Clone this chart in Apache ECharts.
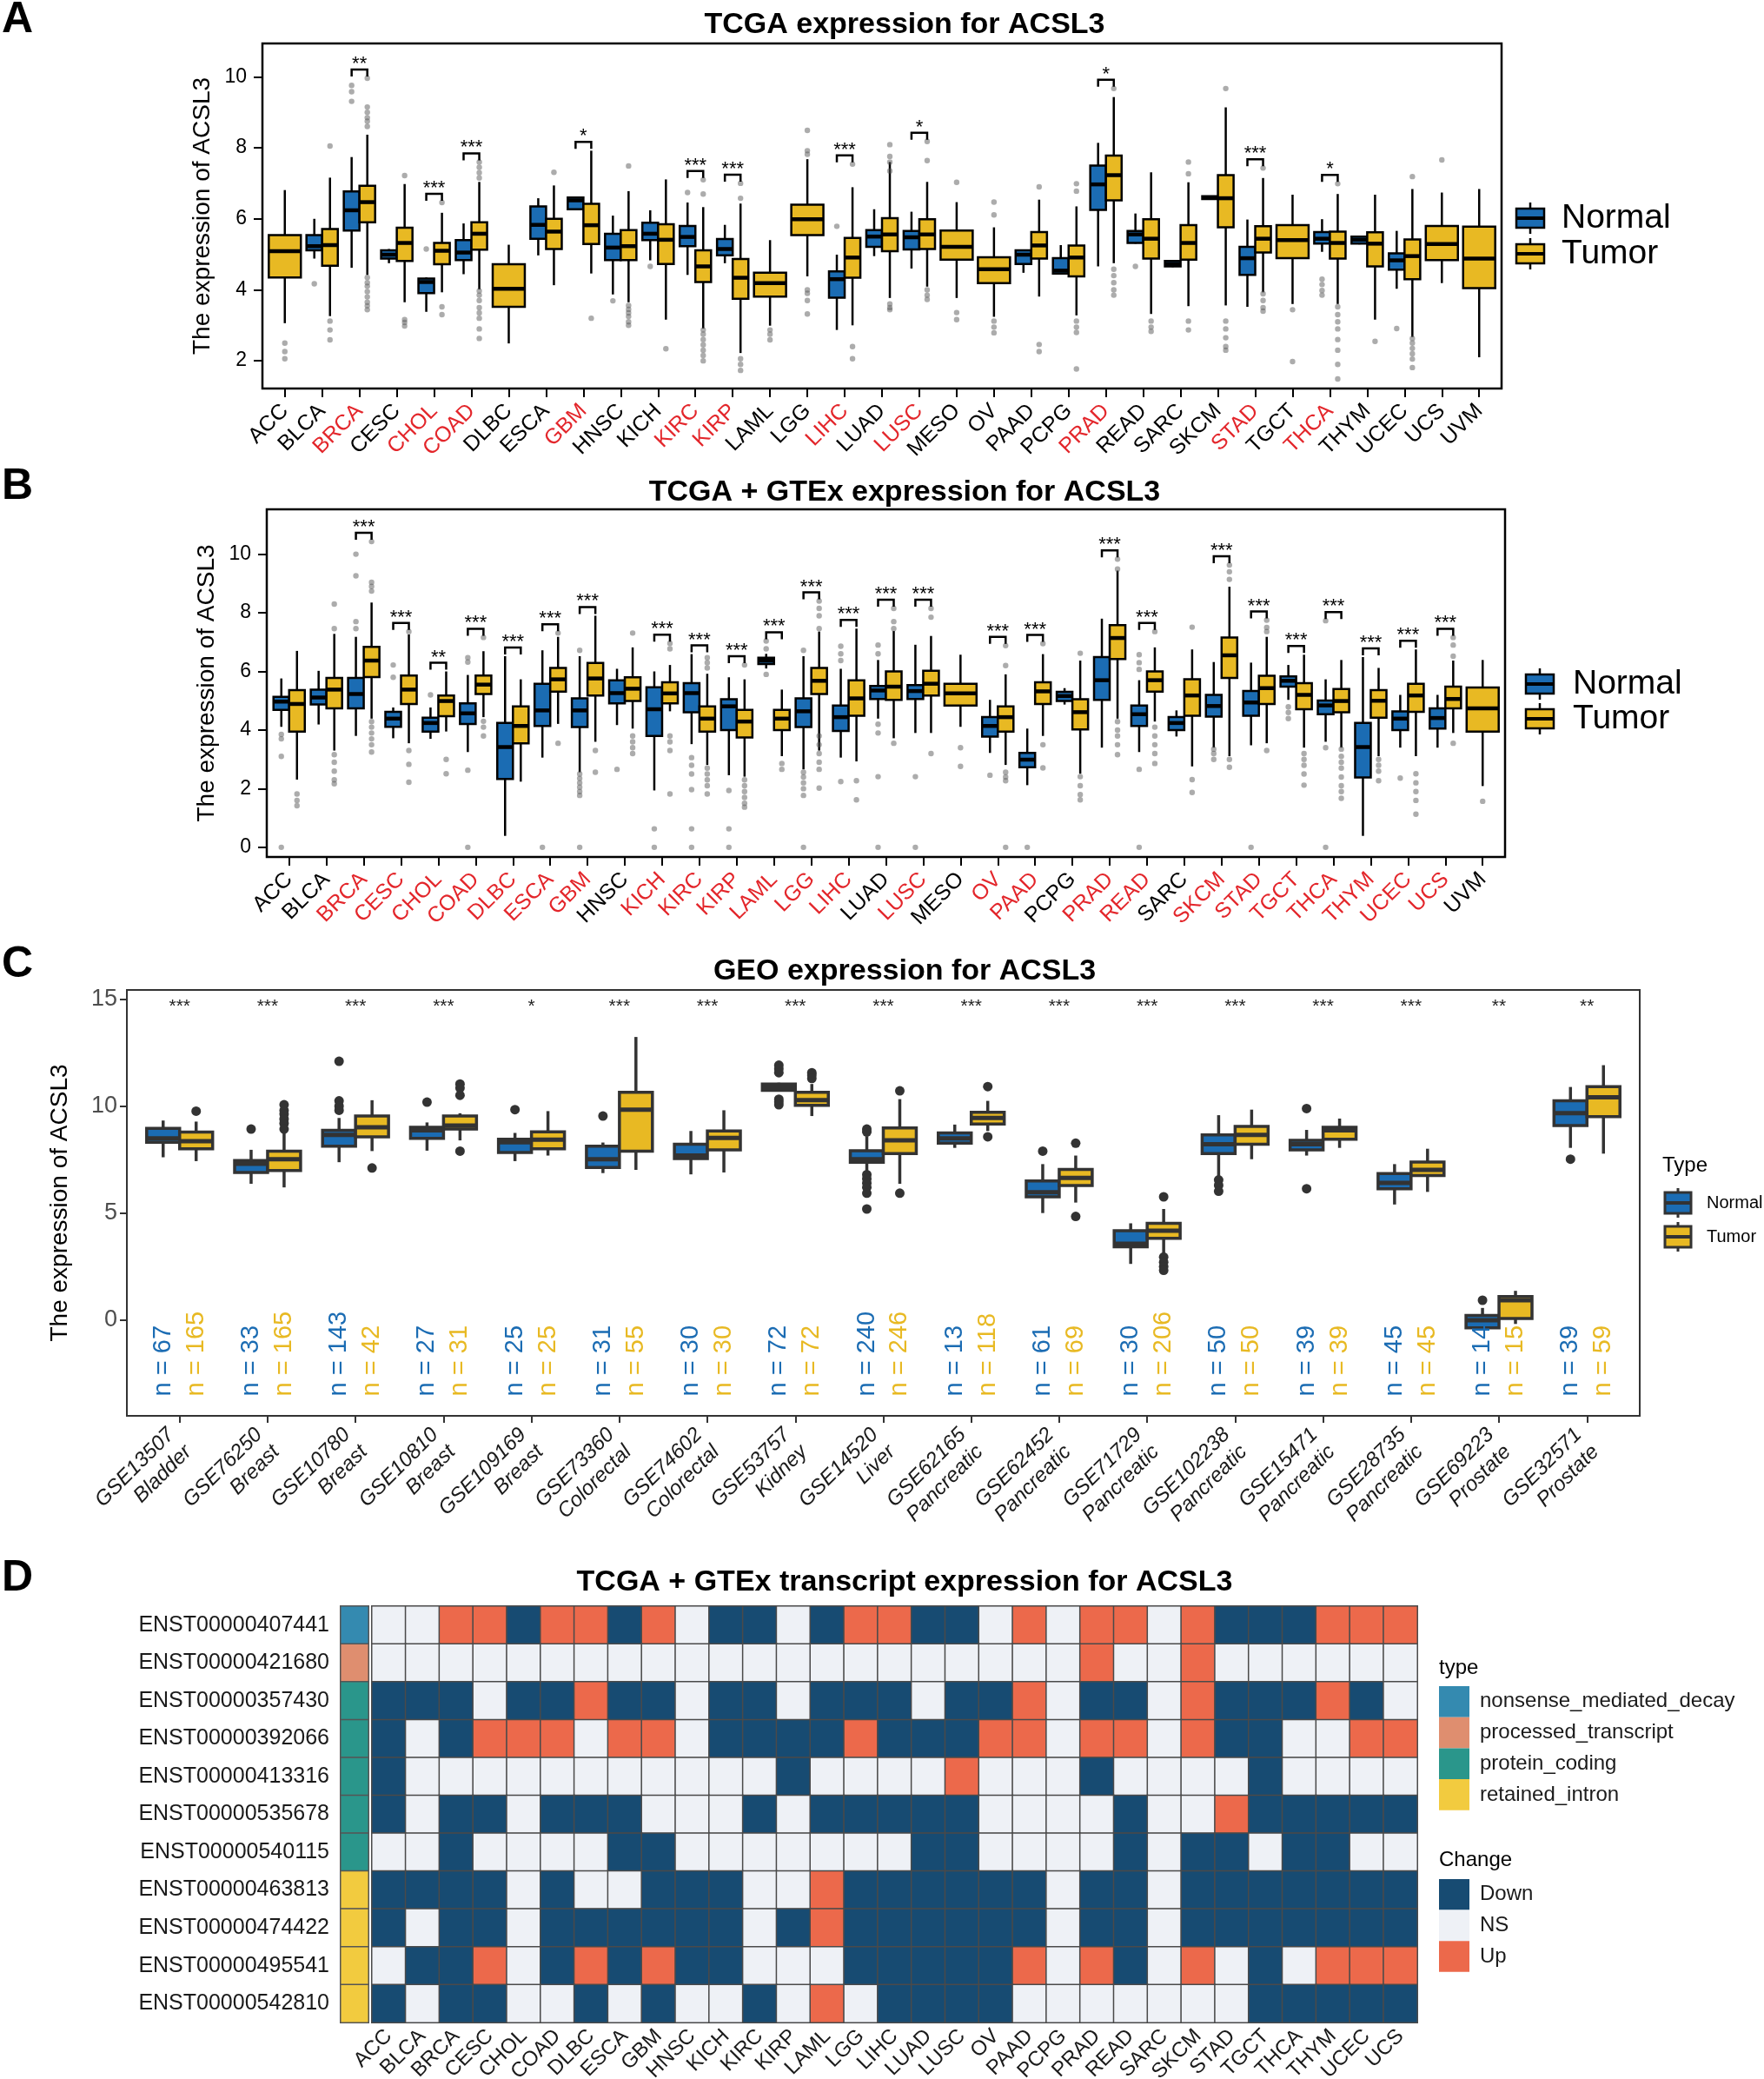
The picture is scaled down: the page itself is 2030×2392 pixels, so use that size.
<!DOCTYPE html>
<html>
<head>
<meta charset="utf-8">
<script src="https://cdn.jsdelivr.net/npm/echarts@6/dist/echarts.min.js"></script>
<style>
html, body { margin: 0; padding: 0; background: #fff; }
#chart { width: 2030px; height: 2392px; }
</style>
</head>
<body>
<div id="chart"></div>
<script>
var FONT = '"Liberation Sans", Arial, Helvetica, sans-serif';
var BLUE = '#1B6CB3';
var GOLD = '#E8B923';
var RED = '#E3262B';

// ---------- A: TCGA ----------
var catsA = ['ACC','BLCA','BRCA','CESC','CHOL','COAD','DLBC','ESCA','GBM','HNSC','KICH','KIRC','KIRP','LAML','LGG','LIHC','LUAD','LUSC','MESO','OV','PAAD','PCPG','PRAD','READ','SARC','SKCM','STAD','TGCT','THCA','THYM','UCEC','UCS','UVM'];
var ticksA = [2, 4, 6, 8, 10];
// [min, q1, median, q3, max]
var normalA = [null,[4.88,5.11,5.23,5.54,6.0],[4.62,5.67,6.24,6.77,7.74],[4.75,4.88,4.99,5.11,5.15],[3.38,3.91,4.22,4.32,4.35],[4.44,4.84,5.05,5.40,5.87],null,[4.97,5.44,5.83,6.35,6.58],[6.24,6.27,6.52,6.60,6.62],[3.87,4.84,5.19,5.58,6.09],[4.83,5.40,5.58,5.89,6.24],[4.42,5.23,5.49,5.80,6.46],[4.75,4.97,5.15,5.43,5.83],null,null,[2.87,3.78,4.30,4.52,4.99],[4.95,5.21,5.50,5.68,6.27],[4.60,5.14,5.48,5.66,6.20],null,null,[4.48,4.73,4.99,5.11,5.13],[4.44,4.46,4.54,4.89,5.26],[4.66,6.25,6.97,7.50,8.14],[5.30,5.32,5.56,5.66,6.15],[4.64,4.66,4.73,4.81,4.83],[6.55,6.56,6.60,6.64,6.65],[3.52,4.42,4.89,5.21,5.98],null,[5.07,5.30,5.44,5.63,5.99],[5.28,5.30,5.41,5.50,5.52],[4.03,4.57,4.83,5.03,5.66],null,null];
var tumorA = [[3.06,4.35,5.09,5.54,6.81],[3.26,4.68,5.26,5.71,7.16],[4.42,5.90,6.47,6.93,8.37],[3.65,4.81,5.32,5.75,6.98],[3.93,4.72,5.10,5.32,6.17],[4.01,5.13,5.58,5.90,7.04],[2.49,3.52,4.03,4.72,5.27],[4.13,5.15,5.64,6.00,6.94],[4.46,5.29,5.82,6.42,7.92],[3.65,4.84,5.23,5.68,6.78],[3.16,4.73,5.41,5.85,7.11],[2.91,4.22,4.66,5.11,6.33],[2.22,3.75,4.34,4.87,6.43],[2.99,3.81,4.19,4.48,5.40],[4.38,5.54,5.99,6.40,7.68],[3.00,4.34,4.91,5.46,6.89],[3.77,5.09,5.56,6.02,7.60],[4.09,5.15,5.56,5.99,7.04],[3.77,4.85,5.21,5.67,6.47],[3.24,4.19,4.58,4.92,5.76],[3.81,4.88,5.25,5.63,6.54],[3.28,4.38,4.91,5.25,6.35],[4.75,6.52,7.23,7.78,9.43],[3.32,4.88,5.44,5.99,7.31],[3.54,4.85,5.32,5.82,7.03],[3.56,5.76,6.58,7.23,9.14],[3.93,5.05,5.44,5.79,7.15],[3.60,4.89,5.40,5.82,6.68],[3.60,4.88,5.32,5.64,6.70],[3.16,4.66,5.30,5.62,6.68],[2.67,4.30,4.95,5.42,6.84],[4.19,4.84,5.29,5.80,6.74],[2.10,4.05,4.88,5.78,6.84]];
var outNormalA = [[],[4.17],[9.76,9.58,9.31],[],[5.15],[],[],[],[],[3.69],[4.66],[6.74],[],[],[],[5.79],[],[],[],[],[],[],[],[4.66],[],[],[],[],[4.30,4.15,3.98,3.85],[],[2.91],[],[]];
var outTumorA = [[2.50,2.26,2.06],[8.05,3.12,2.87,2.59],[9.96,9.15,9.0,8.85,8.75,8.6,4.35,4.2,4.1,3.95,3.8,3.65,3.55,3.44],[7.22,3.16,3.08,2.98],[6.46,3.52,3.30],[7.6,7.45,7.3,7.15,3.97,3.85,3.7,3.5,3.35,3.2,2.9,2.63],[],[7.31],[3.20],[7.49,3.56,3.45,3.35,3.25,3.1,3.0],[2.34],[7.10,6.70,2.87,2.75,2.6,2.45,2.3,2.15,2.0],[7.0,6.58,2.06,1.9,1.73],[2.87,2.75,2.59],[8.49,7.92,7.82,4.0,3.9,3.7,3.32],[7.54,2.40,2.06],[8.09,7.76,7.6,7.35,3.6,3.5,3.44],[8.18,7.64,4.0,3.85,3.73],[7.03,3.36,3.16],[6.47,6.11,3.12,2.95,2.79],[6.90,2.46,2.26],[6.99,6.78,3.12,2.95,2.8,1.77],[9.67,4.58,4.4,4.2,4.0,3.85],[3.12,2.95,2.83],[7.6,7.27,3.12,2.87],[9.67,3.12,2.9,2.65,2.4,2.30],[7.43,3.89,3.7,3.5,3.4],[3.44,1.98],[6.99,3.52,3.3,3.1,2.9,2.6,2.3,1.9,1.49],[2.55],[7.19,2.63,2.5,2.35,2.2,2.05,1.81],[7.66],[]];
var sigA = ['','','**','','***','***','','','*','','','***','***','','','***','','*','','','','','*','','','','***','','*','','','',''];
var redA = ['BRCA','CHOL','COAD','GBM','KIRC','KIRP','LIHC','LUSC','PRAD','STAD','THCA'];

// ---------- B: TCGA + GTEx ----------
var catsB = catsA;
var ticksB = [0, 2, 4, 6, 8, 10];
var normalB = [[4.11,4.69,4.97,5.13,5.76],[4.19,4.87,5.11,5.38,6.02],[3.80,4.74,5.23,5.78,7.18],[3.72,4.11,4.39,4.62,4.77],[3.70,3.95,4.24,4.42,4.77],[3.25,4.21,4.57,4.91,5.88],[0.39,2.33,3.42,4.24,6.52],[3.06,4.14,4.67,5.58,6.72],[2.56,4.10,4.67,5.08,6.52],[4.17,4.91,5.26,5.70,6.09],[1.94,3.80,4.71,5.46,6.00],[3.52,4.61,5.26,5.60,6.59],[2.46,4.00,4.81,5.05,5.80],[6.10,6.25,6.37,6.47,6.60],[2.66,4.10,4.64,5.08,6.52],[3.06,3.97,4.44,4.84,6.09],[4.39,5.06,5.35,5.50,6.39],[3.90,5.06,5.33,5.53,6.91],null,[3.22,3.78,4.14,4.44,5.03],[2.12,2.73,2.99,3.22,4.05],[4.87,4.99,5.16,5.30,5.43],[3.40,5.03,5.70,6.49,7.80],[3.25,4.14,4.54,4.84,5.70],[3.78,4.00,4.24,4.44,4.67],[3.40,4.46,4.82,5.20,6.32],[3.48,4.49,4.94,5.33,6.30],[5.03,5.48,5.68,5.83,6.22],[3.60,4.54,4.84,5.01,5.73],[0.39,2.38,3.42,4.24,6.49],[3.40,4.00,4.39,4.64,5.20],[3.40,4.05,4.41,4.74,5.20],null];
var tumorB = [[2.31,3.95,4.89,5.36,6.70],[3.30,4.74,5.38,5.78,7.28],[4.39,5.81,6.37,6.84,8.35],[3.55,4.89,5.38,5.86,7.26],[3.95,4.47,4.99,5.18,6.00],[4.44,5.23,5.55,5.86,6.69],[2.24,3.55,4.14,4.81,5.73],[4.21,5.31,5.73,6.12,7.18],[3.60,5.18,5.76,6.29,7.90],[4.05,4.99,5.41,5.80,6.82],[4.64,4.91,5.25,5.63,6.22],[2.81,3.95,4.39,4.81,5.92],[2.41,3.75,4.29,4.69,5.73],[3.11,4.00,4.39,4.69,5.38],[3.30,5.23,5.68,6.12,7.36],[2.93,4.49,5.08,5.70,7.46],[3.72,5.03,5.48,6.00,7.38],[3.90,5.18,5.58,6.02,7.21],[4.11,4.84,5.25,5.58,6.57],[2.81,3.95,4.44,4.81,5.90],[3.80,4.89,5.32,5.63,6.59],[2.51,4.02,4.61,5.05,6.37],[4.39,6.42,7.14,7.58,9.44],[4.29,5.31,5.70,6.00,6.82],[2.76,4.49,5.18,5.73,6.75],[3.11,5.78,6.55,7.16,8.89],[3.55,4.89,5.43,5.85,7.18],[3.40,4.71,5.20,5.60,6.57],[3.40,4.61,4.99,5.40,6.39],[3.11,4.42,5.00,5.36,6.12],[3.11,4.62,5.18,5.58,6.75],[3.90,4.74,5.06,5.48,6.37],[2.09,3.95,4.74,5.45,6.39]];
var outNormalB = [[3.85,3.7,3.1,0],[],[10.0,9.26,7.7,7.46],[6.22,5.80],[5.20],[6.47,6.32,2.63,0],[],[0],[6.72,2.5,2.35,2.2,2.05,1.9,1.77,0],[2.66],[0.63,0],[3.06,2.8,2.5,1.97,0.63,0],[1.94,0.63,0],[7.04,6.77,5.90],[6.72,2.56,2.4,2.2,2.0,1.77,0],[6.86,6.6,6.37,2.24],[6.9,6.6,4.2,3.9,2.41,0],[2.41,0],[],[2.46],[0],[],[],[6.57,6.3,6.07,2.66,0],[],[3.35,3.2,3.0],[0],[4.79,4.6,4.39],[7.73,3.40,0],[],[2.36],[],[]];
var outTumorB = [[1.82,1.6,1.42],[8.30,7.46,3.16,2.9,2.6,2.3,2.17],[10.43,9.04,8.9,8.74,4.29,4.1,3.9,3.7,3.5,3.25],[7.36,3.30,2.83,2.22],[3.0,2.51],[7.16,4.3,4.1,3.8],[],[7.31,3.55],[3.30,2.56],[7.31,3.8,3.6,3.4,3.2],[6.96,6.77,3.8,3.6,3.3,1.82],[6.47,6.3,6.12,2.7,2.5,2.3,2.1,1.82],[6.22,2.3,2.1,1.9,1.7,1.5,1.37],[2.86,2.66],[8.40,8.15,7.9,7.46,3.8,3.5,3.2,2.9,2.66,2.02],[2.27,1.62],[8.15,7.7,7.46,3.55],[8.15,7.85,3.2],[3.40,2.76],[6.88,6.2,2.56,2.4,2.27,0],[6.95,3.50,2.71],[6.62,2.41,2.1,1.8,1.62],[9.83,9.49,4.29,4.0,3.8,3.5,3.16],[7.36,4.1,3.8,3.5,3.2,2.86],[7.51,2.31,1.87],[9.63,9.4,9.14,3.0,2.73],[7.75,7.5,7.36,3.30],[3.2,3.0,2.8,2.5,2.12],[3.35,3.1,2.9,2.7,2.4,2.1,1.9,1.67],[3.0,2.8,2.6,2.27],[2.51,2.2,1.9,1.6,1.13],[7.16,6.9,6.52,3.55],[1.57]];
var sigB = ['','','***','***','**','***','***','***','***','','***','***','***','***','***','***','***','***','','***','***','','***','***','','***','***','***','***','***','***','***',''];
var redB = ['BRCA','CESC','CHOL','COAD','DLBC','ESCA','GBM','KICH','KIRC','KIRP','LAML','LGG','LIHC','LUSC','OV','PAAD','PRAD','READ','SKCM','STAD','TGCT','THCA','THYM','UCEC','UCS'];

// ---------- C: GEO ----------
var catsC = ['GSE13507','GSE76250','GSE10780','GSE10810','GSE109169','GSE73360','GSE74602','GSE53757','GSE14520','GSE62165','GSE62452','GSE71729','GSE102238','GSE15471','GSE28735','GSE69223','GSE32571'];
var tissueC = ['Bladder','Breast','Breast','Breast','Breast','Colorectal','Colorectal','Kidney','Liver','Pancreatic','Pancreatic','Pancreatic','Pancreatic','Pancreatic','Pancreatic','Prostate','Prostate'];
var ticksC = [0, 5, 10, 15];
var normalC = [[7.61,8.31,8.49,8.96,9.33],[6.37,6.90,7.31,7.46,7.96],[7.38,8.13,8.66,8.87,9.45],[7.92,8.49,8.87,9.01,9.24],[7.43,7.83,8.31,8.45,8.75],[6.87,7.13,7.52,8.13,8.30],[6.81,7.55,7.69,8.22,8.84],[10.70,10.74,10.90,11.04,11.10],[6.90,7.38,7.52,7.92,8.60],[8.05,8.27,8.49,8.75,9.14],[5.00,5.76,5.97,6.50,7.29],[2.62,3.42,3.56,4.17,4.52],[6.64,7.78,8.22,8.66,9.58],[7.69,7.96,8.22,8.40,8.89],[5.40,6.14,6.41,6.85,7.29],[-0.37,-0.37,-0.02,0.21,0.56],[8.05,9.10,9.67,10.25,10.90]];
var tumorC = [[7.43,8.01,8.36,8.79,9.28],[6.20,6.99,7.52,7.90,8.75],[7.90,8.57,9.01,9.54,10.28],[8.40,8.93,9.10,9.54,9.67],[7.69,8.01,8.43,8.80,9.77],[7.02,7.90,9.84,10.65,13.24],[6.90,7.96,8.52,8.84,9.81],[9.54,10.04,10.28,10.65,11.04],[6.37,7.78,8.40,8.98,10.33],[8.84,9.17,9.45,9.72,10.25],[5.49,6.29,6.64,7.04,7.69],[3.12,3.82,4.17,4.52,5.19],[7.52,8.22,8.66,9.05,9.84],[8.05,8.45,8.87,9.01,9.42],[5.99,6.76,7.02,7.39,8.01],[-0.19,0.07,0.92,1.09,1.36],[7.78,9.51,10.42,10.92,11.92]];
var outNormalC = [[],[8.93],[12.1,10.25,10.0,9.81],[10.19],[9.84],[9.54],[],[11.92,11.75,11.57,10.33,10.2,10.07],[8.93,8.8,6.8,6.6,6.4,6.2,5.93,5.19],[],[7.90],[],[6.55,6.3,6.02],[9.89,6.14],[],[0.92],[7.52]];
var outTumorC = [[9.77],[10.07,9.8,9.63,9.4,9.2,8.93],[7.11],[11.04,10.85,10.51,7.90],[],[],[],[11.57,11.45,11.30],[10.72,5.93],[10.92,8.57],[8.27,4.84],[5.76,2.94,2.7,2.5,2.32],[],[],[],[],[]];
var sigC = ['***','***','***','***','*','***','***','***','***','***','***','***','***','***','***','**','**'];
var nNormalC = [67,33,143,27,25,31,30,72,240,13,61,30,50,39,45,14,39];
var nTumorC = [165,165,42,31,25,55,30,72,246,118,69,206,50,39,45,15,59];

// ---------- D: transcripts ----------
var cancersD = ['ACC','BLCA','BRCA','CESC','CHOL','COAD','DLBC','ESCA','GBM','HNSC','KICH','KIRC','KIRP','LAML','LGG','LIHC','LUAD','LUSC','OV','PAAD','PCPG','PRAD','READ','SARC','SKCM','STAD','TGCT','THCA','THYM','UCEC','UCS'];
var transcripts = ['ENST00000407441','ENST00000421680','ENST00000357430','ENST00000392066','ENST00000413316','ENST00000535678','ENST00000540115','ENST00000463813','ENST00000474422','ENST00000495541','ENST00000542810'];
var typeNames = ['nonsense_mediated_decay','processed_transcript','protein_coding','retained_intron'];
var transcriptType = [0, 1, 2, 2, 2, 2, 2, 3, 3, 3, 3];
var changeNames = ['Down', 'NS', 'Up'];
// one string per transcript, one letter per cancer: D = Down, N = NS, U = Up
var changeRows = [
  'NNUUDUUDUNDDNDUUDDNUNUUNUDDDUUU',
  'NNNNNNNNNNNNNNNNNNNNNUNNUNNNNNN',
  'DDDNDDUDDNDDNDDDNDDUNDDNUDDDUDN',
  'DNDUUUNUUNDDDDUDDDUUNUUNUDDNNUU',
  'DNNNNNNNNNNNDNNNNUNNNDNNNNDNNNN',
  'DNDDNDDDNNNDNDDDDDNNNNDNNUDDDDD',
  'NNDNNNNDDNNNNNNNDDNNNNDNDDNDDNN',
  'DDDDNDNNDDDNNUDDDDDDNDDNDDDDDDD',
  'DNDDNDDDDDDNDUDDDDDDNDDNDDDDDDD',
  'NDDUNDUDUDDNNNDDDDDUNUDNUNDNUUU',
  'DNDDNNDNDNNDNUNDDDDNNNNNNNDDDDD'
];

var typeColors = ['#348AB0', '#DF8E6F', '#2A968B', '#F2CB3F'];
var changeColors = ['#174B72', '#EEF1F6', '#EC694B'];

// ---------- helpers ----------
function range(n) { var r = []; for (var i = 0; i < n; i++) r.push(i); return r; }

function boxData(normal, tumor) {
  var n = [], t = [];
  for (var i = 0; i < tumor.length; i++) {
    var pair = normal[i] && tumor[i] ? 1 : 0;
    if (normal[i]) n.push([i].concat(normal[i], [pair]));
    if (tumor[i]) t.push([i].concat(tumor[i], [pair]));
  }
  return { n: n, t: t };
}

function outData(out, normal, tumor) {
  var d = [];
  out.forEach(function (vals, i) {
    var pair = normal[i] && tumor[i] ? 1 : 0;
    vals.forEach(function (v) { d.push([i, v, pair]); });
  });
  return d;
}

// highest point of each category (whiskers + outliers), used to lift the bracket
function sigData(sig, normal, tumor, outN, outT) {
  var d = [];
  sig.forEach(function (s, i) {
    if (!s) return;
    var vals = [].concat(normal[i] || [], tumor[i] || [], outN[i], outT[i]);
    d.push([i, Math.max.apply(null, vals)]);
  });
  return d;
}

function makeBox(sign, cfg, fill) {
  return function (params, api) {
    var i = api.value(0), pair = api.value(6);
    var unit = api.size([1, 0])[0];
    var w = pair ? unit * cfg.width / 2 : unit * cfg.single;
    var x = api.coord([i, 0])[0] + (pair ? sign * w / 2 : 0);
    var y = [1, 2, 3, 4, 5].map(function (d) { return api.coord([i, api.value(d)])[1]; });
    var ls = { stroke: cfg.stroke, lineWidth: cfg.lw };
    return {
      type: 'group',
      children: [
        { type: 'line', shape: { x1: x, y1: y[4], x2: x, y2: y[3] }, style: ls },
        { type: 'line', shape: { x1: x, y1: y[1], x2: x, y2: y[0] }, style: ls },
        { type: 'rect', shape: { x: x - w / 2, y: y[3], width: w, height: y[1] - y[3] },
          style: { fill: fill, stroke: cfg.stroke, lineWidth: cfg.lw } },
        { type: 'line', shape: { x1: x - w / 2, y1: y[2], x2: x + w / 2, y2: y[2] },
          style: { stroke: cfg.stroke, lineWidth: cfg.mw } }
      ]
    };
  };
}

function makeOut(sign, cfg) {
  return function (params, api) {
    var i = api.value(0), pair = api.value(2);
    var unit = api.size([1, 0])[0];
    var p = api.coord([i, api.value(1)]);
    var off = pair ? sign * unit * cfg.width / 4 : 0;
    return { type: 'circle', shape: { cx: p[0] + off, cy: p[1], r: cfg.r }, style: { fill: cfg.dot } };
  };
}

function makeBracket(sig, cfg) {
  return function (params, api) {
    var i = api.value(0);
    var unit = api.size([1, 0])[0];
    var cx = api.coord([i, 0])[0];
    var y = api.coord([i, api.value(1)])[1] - 10;
    var x1 = cx - unit * cfg.width / 4, x2 = cx + unit * cfg.width / 4;
    return {
      type: 'group',
      children: [
        { type: 'polyline', shape: { points: [[x1, y + 8], [x1, y], [x2, y], [x2, y + 8]] },
          style: { stroke: '#000', lineWidth: 2.5, fill: null } },
        { type: 'text', x: cx, y: y - 6,
          style: { text: sig[i], font: '22px ' + FONT, fill: '#000', align: 'center', verticalAlign: 'middle' } }
      ]
    };
  };
}

function boxSeries(g, normal, tumor, outN, outT, cfg) {
  var d = boxData(normal, tumor);
  return [
    { type: 'custom', xAxisIndex: g, yAxisIndex: g, data: d.n, encode: { x: 0, y: [1, 2, 3, 4, 5] },
      renderItem: makeBox(-1, cfg, BLUE), silent: true },
    { type: 'custom', xAxisIndex: g, yAxisIndex: g, data: d.t, encode: { x: 0, y: [1, 2, 3, 4, 5] },
      renderItem: makeBox(1, cfg, GOLD), silent: true },
    { type: 'custom', xAxisIndex: g, yAxisIndex: g, data: outData(outN, normal, tumor), encode: { x: 0, y: 1 },
      renderItem: makeOut(-1, cfg), silent: true },
    { type: 'custom', xAxisIndex: g, yAxisIndex: g, data: outData(outT, normal, tumor), encode: { x: 0, y: 1 },
      renderItem: makeOut(1, cfg), silent: true }
  ];
}

function catAxis(g, cats, red, margin) {
  var idx = range(cats.length);
  return {
    gridIndex: g, type: 'value', min: -0.6, max: cats.length - 0.4,
    axisLine: { show: false, onZero: false }, splitLine: { show: false },
    axisTick: { show: true, customValues: idx, length: 10, lineStyle: { color: '#000', width: 2 } },
    axisLabel: {
      customValues: idx, rotate: 45, margin: margin,
      formatter: function (v) { var c = cats[Math.round(v)]; return (red.indexOf(c) >= 0 ? '{r|' : '{k|') + c + '}'; },
      rich: {
        k: { color: '#000', fontSize: 25, fontFamily: FONT },
        r: { color: RED, fontSize: 25, fontFamily: FONT }
      }
    }
  };
}

function valAxis(g, min, max, ticks, gap) {
  return {
    gridIndex: g, type: 'value', min: min, max: max,
    axisLine: { show: false, onZero: false }, splitLine: { show: false },
    axisTick: { show: true, customValues: ticks, length: 10, lineStyle: { color: '#000', width: 2 } },
    axisLabel: { customValues: ticks, fontSize: 23, color: '#000', fontFamily: FONT, margin: 18 },
    name: 'The expression of ACSL3', nameLocation: 'middle', nameGap: gap,
    nameTextStyle: { fontSize: 28, color: '#000', fontFamily: FONT }
  };
}

function boxKey(cx, cy, w, h, wh, fill, stroke, lw, mw) {
  return {
    type: 'group',
    children: [
      { type: 'line', shape: { x1: cx, y1: cy - wh, x2: cx, y2: cy + wh }, style: { stroke: stroke, lineWidth: lw } },
      { type: 'rect', shape: { x: cx - w / 2, y: cy - h / 2, width: w, height: h }, style: { fill: fill, stroke: stroke, lineWidth: lw } },
      { type: 'line', shape: { x1: cx - w / 2, y1: cy, x2: cx + w / 2, y2: cy }, style: { stroke: stroke, lineWidth: mw } }
    ]
  };
}

function label(x, y, text, size, opts) {
  opts = opts || {};
  return {
    type: 'text', x: x, y: y,
    style: {
      text: text, font: (opts.bold ? 'bold ' : '') + size + 'px ' + FONT,
      fill: opts.color || '#000', align: opts.align || 'left', verticalAlign: 'middle'
    }
  };
}

var cfgAB = { width: 0.84, single: 0.86, stroke: '#000', lw: 2.5, mw: 4.5, r: 3.2, dot: 'rgba(90,90,90,0.5)' };
var cfgC = { width: 0.75, single: 0.75, stroke: '#333', lw: 3.5, mw: 5, r: 5.5, dot: '#333' };

// ---------- series ----------
var series = [];
series = series.concat(boxSeries(0, normalA, tumorA, outNormalA, outTumorA, cfgAB));
series.push({ type: 'custom', xAxisIndex: 0, yAxisIndex: 0, silent: true,
  data: sigData(sigA, normalA, tumorA, outNormalA, outTumorA), encode: { x: 0, y: 1 },
  renderItem: makeBracket(sigA, cfgAB) });
series = series.concat(boxSeries(1, normalB, tumorB, outNormalB, outTumorB, cfgAB));
series.push({ type: 'custom', xAxisIndex: 1, yAxisIndex: 1, silent: true,
  data: sigData(sigB, normalB, tumorB, outNormalB, outTumorB), encode: { x: 0, y: 1 },
  renderItem: makeBracket(sigB, cfgAB) });
series = series.concat(boxSeries(2, normalC, tumorC, outNormalC, outTumorC, cfgC));

// C: significance stars and group sizes
series.push({ type: 'custom', xAxisIndex: 2, yAxisIndex: 2, silent: true,
  data: sigC.map(function (s, i) { return [i, 0]; }), encode: { x: 0, y: 1 },
  renderItem: function (params, api) {
    var i = api.value(0);
    var p = api.coord([i, 14.77]);
    return { type: 'text', x: p[0], y: p[1] + 3,
      style: { text: sigC[i], font: '21px ' + FONT, fill: '#222', align: 'center', verticalAlign: 'middle' } };
  } });
[[nNormalC, -1, BLUE], [nTumorC, 1, GOLD]].forEach(function (g) {
  series.push({ type: 'custom', xAxisIndex: 2, yAxisIndex: 2, silent: true,
    data: g[0].map(function (n, i) { return [i, n]; }), encode: { x: 0, y: 1 },
    renderItem: function (params, api) {
      var i = api.value(0);
      var unit = api.size([1, 0])[0];
      var p = api.coord([i, -3.57]);
      return { type: 'text', x: p[0] + g[1] * unit * cfgC.width / 4, y: p[1], rotation: Math.PI / 2,
        style: { text: 'n = ' + api.value(1), font: '29px ' + FONT, fill: g[2], align: 'left', verticalAlign: 'middle' } };
    } });
});

// D: heatmap + type bar
var heatData = [];
changeRows.forEach(function (row, r) {
  for (var c = 0; c < row.length; c++) heatData.push([c, r, 'DNU'.indexOf(row[c])]);
});
var heatIndex = series.length;
series.push({ type: 'heatmap', xAxisIndex: 3, yAxisIndex: 3, data: heatData, silent: true,
  itemStyle: { borderColor: '#4a4a4a', borderWidth: 1.5 } });
var typeIndex = series.length;
series.push({ type: 'heatmap', xAxisIndex: 4, yAxisIndex: 4, silent: true,
  data: transcriptType.map(function (t, r) { return [0, r, t]; }),
  itemStyle: { borderColor: '#555', borderWidth: 1.5 } });

var option = {
  animation: false,
  backgroundColor: '#fff',
  textStyle: { fontFamily: FONT },
  grid: [
    { left: 302, top: 50, width: 1426, height: 397, show: true, borderColor: '#000', borderWidth: 2.5, outerBoundsMode: 'none' },
    { left: 307, top: 586, width: 1425, height: 400, show: true, borderColor: '#000', borderWidth: 2.5, outerBoundsMode: 'none' },
    { left: 146, top: 1139, width: 1741, height: 490, show: true, borderColor: '#333', borderWidth: 2, outerBoundsMode: 'none' },
    { left: 428, top: 1848, width: 1203, height: 479, outerBoundsMode: 'none' },
    { left: 392, top: 1848, width: 32, height: 479, outerBoundsMode: 'none' }
  ],
  xAxis: [
    catAxis(0, catsA, redA, 22),
    catAxis(1, catsB, redB, 22),
    {
      gridIndex: 2, type: 'value', min: -0.6, max: catsC.length - 0.4,
      axisLine: { show: false, onZero: false }, splitLine: { show: false },
      axisTick: { customValues: range(catsC.length), length: 8, lineStyle: { color: '#333', width: 2 } },
      axisLabel: {
        customValues: range(catsC.length), rotate: 45, margin: 28,
        formatter: function (v) { var i = Math.round(v); return '{a|' + catsC[i] + '}\n{a|' + tissueC[i] + '}'; },
        rich: { a: { fontSize: 24, fontStyle: 'italic', color: '#1a1a1a', fontFamily: FONT, lineHeight: 28 } }
      }
    },
    {
      gridIndex: 3, type: 'category', data: cancersD,
      axisLine: { show: false }, axisTick: { show: false }, splitLine: { show: false },
      axisLabel: { rotate: 45, interval: 0, fontSize: 24, color: '#1a1a1a', margin: 12 }
    },
    { gridIndex: 4, type: 'category', data: ['type'], show: false }
  ],
  yAxis: [
    valAxis(0, 1.22, 10.94, ticksA, 49),
    valAxis(1, -0.33, 11.53, ticksB, 49),
    {
      gridIndex: 2, type: 'value', min: -4.49, max: 15.44,
      axisLine: { show: false, onZero: false }, splitLine: { show: false },
      axisTick: { customValues: ticksC, length: 8, lineStyle: { color: '#333', width: 2 } },
      axisLabel: { customValues: ticksC, fontSize: 27, color: '#4D4D4D', margin: 11 },
      name: 'The expression of ACSL3', nameLocation: 'middle', nameGap: 63,
      nameTextStyle: { fontSize: 28, color: '#000' }
    },
    {
      gridIndex: 3, type: 'category', data: transcripts, inverse: true,
      axisLine: { show: false }, axisTick: { show: false }, axisLabel: { show: false }
    },
    {
      gridIndex: 4, type: 'category', data: transcripts, inverse: true,
      axisLine: { show: false }, axisTick: { show: false },
      axisLabel: { fontSize: 25, color: '#1a1a1a', margin: 13 }
    }
  ],
  visualMap: [
    {
      type: 'piecewise', seriesIndex: heatIndex, dimension: 2, orient: 'vertical', inverse: true, align: 'left',
      pieces: changeNames.map(function (n, k) { return { value: k, label: n, color: changeColors[k] }; }),
      left: 1656, top: 2162, itemWidth: 35, itemHeight: 35.6, itemGap: 0, itemSymbol: 'rect',
      padding: 0, textGap: 12, selectedMode: false, hoverLink: false,
      textStyle: { fontSize: 24, color: '#1a1a1a' }
    },
    {
      type: 'piecewise', seriesIndex: typeIndex, dimension: 2, orient: 'vertical', inverse: true, align: 'left',
      pieces: typeNames.map(function (n, k) { return { value: k, label: n, color: typeColors[k] }; }),
      left: 1656, top: 1940, itemWidth: 35, itemHeight: 35.7, itemGap: 0, itemSymbol: 'rect',
      padding: 0, textGap: 12, selectedMode: false, hoverLink: false,
      textStyle: { fontSize: 24, color: '#1a1a1a' }
    }
  ],
  graphic: [
    label(2, 23, 'A', 50, { bold: true }),
    label(2, 560, 'B', 50, { bold: true }),
    label(2, 1110, 'C', 50, { bold: true }),
    label(2, 1816, 'D', 50, { bold: true }),
    label(1041, 29, 'TCGA expression for ACSL3', 34, { bold: true, align: 'center' }),
    label(1041, 567, 'TCGA + GTEx expression for ACSL3', 34, { bold: true, align: 'center' }),
    label(1041, 1118, 'GEO expression for ACSL3', 34, { bold: true, align: 'center' }),
    label(1041, 1821, 'TCGA + GTEx transcript expression for ACSL3', 34, { bold: true, align: 'center' }),
    boxKey(1761, 251, 32, 22, 18, BLUE, '#000', 2.5, 4),
    boxKey(1761, 292, 32, 22, 18, GOLD, '#000', 2.5, 4),
    label(1797, 251, 'Normal', 39),
    label(1797, 292, 'Tumor', 39),
    boxKey(1772, 787, 32, 22, 18, BLUE, '#000', 2.5, 4),
    boxKey(1772, 827, 32, 22, 18, GOLD, '#000', 2.5, 4),
    label(1810, 787, 'Normal', 39),
    label(1810, 827, 'Tumor', 39),
    label(1913, 1341, 'Type', 24),
    boxKey(1931, 1384, 30, 24, 17, BLUE, '#333', 3, 4),
    boxKey(1931, 1423, 30, 24, 17, GOLD, '#333', 3, 4),
    label(1964, 1384, 'Normal', 20),
    label(1964, 1423, 'Tumor', 20),
    label(1656, 1919, 'type', 24),
    label(1656, 2140, 'Change', 24)
  ],
  series: series
};

var chart = echarts.init(document.getElementById('chart'));
chart.setOption(option);
</script>
</body>
</html>
